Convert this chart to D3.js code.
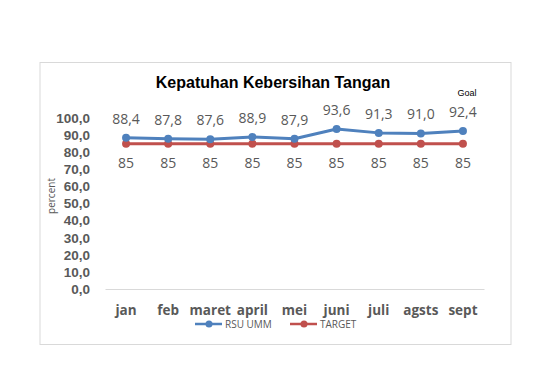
<!DOCTYPE html>
<html lang="en">
<head>
    <meta charset="UTF-8">
    <title>Kepatuhan Kebersihan Tangan</title>
    <script src="https://d3js.org/d3.v7.min.js"></script>
    <style>
        body {
            margin: 0;
            background: #fff;
        }
        svg text {
            font-family: "Open Sans", "DejaVu Sans", sans-serif;
        }
    </style>
</head>
<body>
    <div id="chart"></div>
    <script>
        // data
        const months = ["jan", "feb", "maret", "april", "mei", "juni", "juli", "agsts", "sept"];
        const rsuUmm = [88.4, 87.8, 87.6, 88.9, 87.9, 93.6, 91.3, 91.0, 92.4];
        const target = [85, 85, 85, 85, 85, 85, 85, 85, 85];
        const yTicks = [0, 10, 20, 30, 40, 50, 60, 70, 80, 90, 100];

        const W = 560, H = 370;
        const svg = d3.select("#chart").append("svg")
            .attr("width", W)
            .attr("height", H);

        const comma1 = d => d3.format(".1f")(d).replace(".", ",");

        // chart frame
        svg.append("rect")
            .attr("x", 40).attr("y", 62.5)
            .attr("width", 471).attr("height", 282)
            .attr("fill", "#fff")
            .attr("stroke", "#d9d9d9")
            .attr("stroke-width", 1);

        const x = d3.scaleBand()
            .domain(months)
            .range([105, 484]);

        const y = d3.scaleLinear()
            .domain([0, 100])
            .range([289, 118]);

        // title
        svg.append("text")
            .attr("x", 273).attr("y", 88)
            .attr("text-anchor", "middle")
            .style("font-family", "Arial, 'Liberation Sans', sans-serif")
            .style("font-weight", "bold")
            .style("font-size", "16px")
            .attr("fill", "#000")
            .text("Kepatuhan Kebersihan Tangan");

        svg.append("text")
            .attr("x", 467).attr("y", 96)
            .attr("text-anchor", "middle")
            .style("font-family", "Arial, 'Liberation Sans', sans-serif")
            .style("font-size", "9px")
            .attr("fill", "#000")
            .text("Goal");

        // y axis labels (no line)
        const yAxis = d3.axisLeft(y)
            .tickValues(yTicks)
            .tickSize(0)
            .tickPadding(0)
            .tickFormat(comma1);

        const gy = svg.append("g")
            .attr("transform", "translate(90,0)")
            .call(yAxis);
        gy.select(".domain").remove();
        gy.selectAll("text")
            .style("font-family", "'Liberation Sans', Arial, sans-serif")
            .style("font-size", "13.5px")
            .style("font-weight", "bold")
            .attr("fill", "#595959");

        svg.append("text")
            .attr("transform", "translate(55,196) rotate(-90)")
            .attr("text-anchor", "middle")
            .style("font-size", "10px")
            .attr("fill", "#595959")
            .text("percent");

        // x axis
        const xAxis = d3.axisBottom(x).tickSize(0).tickPadding(16);
        const gx = svg.append("g")
            .attr("transform", `translate(0,${y(0)})`)
            .call(xAxis);
        gx.select(".domain")
            .attr("stroke", "#d9d9d9")
            .attr("stroke-width", 1);
        gx.selectAll("text")
            .style("font-size", "13.5px")
            .style("font-weight", "bold")
            .attr("fill", "#595959");

        const cx = d => x(d) + x.bandwidth() / 2;

        function drawSeries(values, color, labelDy, fmt) {
            const line = d3.line()
                .x((d, i) => cx(months[i]))
                .y(d => y(d));

            svg.append("path")
                .datum(values)
                .attr("d", line)
                .attr("fill", "none")
                .attr("stroke", color)
                .attr("stroke-width", 3)
                .attr("stroke-linejoin", "round");

            svg.append("g").selectAll("circle")
                .data(values)
                .join("circle")
                .attr("cx", (d, i) => cx(months[i]))
                .attr("cy", d => y(d))
                .attr("r", 4)
                .attr("fill", color);

            svg.append("g").selectAll("text")
                .data(values)
                .join("text")
                .attr("x", (d, i) => cx(months[i]))
                .attr("y", d => y(d) + labelDy)
                .attr("text-anchor", "middle")
                .style("font-size", "14px")
                .attr("fill", "#595959")
                .text(fmt);
        }

        drawSeries(target, "#c0504d", 24, d => d);
        drawSeries(rsuUmm, "#4f81bd", -14, comma1);

        // legend
        const legend = [
            { name: "RSU UMM", color: "#4f81bd", x: 195 },
            { name: "TARGET", color: "#c0504d", x: 290 }
        ];
        const lg = svg.append("g").selectAll("g")
            .data(legend)
            .join("g")
            .attr("transform", d => `translate(${d.x},324)`);
        lg.append("line")
            .attr("x1", 0).attr("x2", 27)
            .attr("stroke", d => d.color)
            .attr("stroke-width", 2.5);
        lg.append("circle")
            .attr("cx", 14).attr("r", 3.5)
            .attr("fill", d => d.color);
        lg.append("text")
            .attr("x", 30).attr("y", 4)
            .style("font-size", "10px")
            .attr("fill", "#595959")
            .text(d => d.name);
    </script>
</body>
</html>
